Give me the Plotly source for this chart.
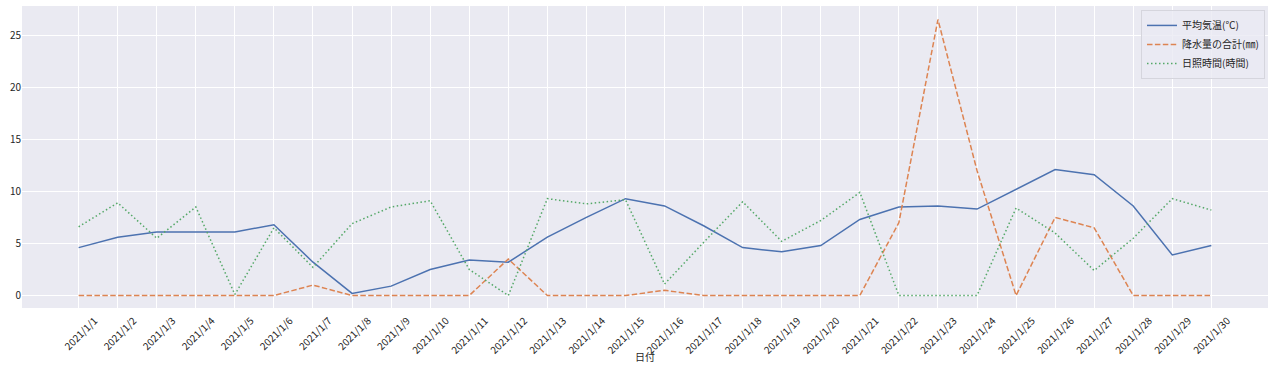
import plotly.graph_objects as go

dates = [f"2021/1/{d}" for d in range(1, 31)]

temp = [4.6, 5.6, 6.1, 6.1, 6.1, 6.8, 3.2, 0.2, 0.9, 2.5,
        3.4, 3.2, 5.6, 7.5, 9.3, 8.6, 6.7, 4.6, 4.2, 4.8,
        7.3, 8.5, 8.6, 8.3, 10.2, 12.1, 11.6, 8.6, 3.9, 4.8]
rain = [0, 0, 0, 0, 0, 0, 1.0, 0, 0, 0,
        0, 3.5, 0, 0, 0, 0.5, 0, 0, 0, 0,
        0, 7.0, 26.5, 12.0, 0, 7.5, 6.5, 0, 0, 0]
sun = [6.6, 8.9, 5.5, 8.5, 0.1, 6.5, 2.7, 6.9, 8.5, 9.1,
       2.5, 0.0, 9.3, 8.8, 9.2, 1.1, 5.1, 9.0, 5.2, 7.2,
       9.9, 0.0, 0.0, 0.0, 8.4, 6.0, 2.4, 5.5, 9.3, 8.2]

names = ["平均気温(℃)", "降水量の合計(㎜)", "日照時間(時間)"]
yticks = [0, 5, 10, 15, 20, 25]
xtitle = "日付"

FONT = "Noto Sans CJK JP, sans-serif"

fig = go.Figure()
fig.add_trace(go.Scatter(x=dates, y=temp, name=names[0], mode="lines",
                         line=dict(color="#4C72B0", width=1.5)))
fig.add_trace(go.Scatter(x=dates, y=rain, name=names[1], mode="lines",
                         line=dict(color="#DD8452", width=1.5, dash="5.5px,2.4px")))
fig.add_trace(go.Scatter(x=dates, y=sun, name=names[2], mode="lines",
                         line=dict(color="#55A868", width=1.5, dash="1.5px,2.5px")))

fig.update_layout(
    width=1271, height=367,
    margin=dict(l=22, r=3, t=6, b=59),
    paper_bgcolor="white",
    plot_bgcolor="#EAEAF2",
    font=dict(family=FONT, size=10, color="#262626"),
    showlegend=True,
    legend=dict(x=0.9976, y=0.987, xanchor="right", yanchor="top",
                bgcolor="rgba(234,234,242,0.8)", bordercolor="#d5d5dd", borderwidth=1,
                font=dict(size=10), tracegroupgap=0, itemwidth=30),
    xaxis=dict(type="category", range=[-1.45, 30.45], tickangle=-45,
               showgrid=True, gridcolor="white", gridwidth=1, zeroline=False,
               showline=False, ticks="", tickfont=dict(size=10), automargin=False,
               ticklabelshift=16, ticklabelstandoff=4),
    yaxis=dict(range=[-1.2, 27.8], tickvals=yticks, showgrid=True,
               gridcolor="white", gridwidth=1, zeroline=False, showline=False,
               ticks="", tickfont=dict(size=10), automargin=False),
    annotations=[dict(text=xtitle, xref="paper", yref="paper", x=0.5, y=-0.162,
                      xanchor="center", yanchor="middle", showarrow=False,
                      font=dict(size=10, color="#262626"))],
)

fig.write_html("out.html", config={"displayModeBar": False},
               post_script="document.body.style.margin='0';document.body.style.overflow='hidden';")
